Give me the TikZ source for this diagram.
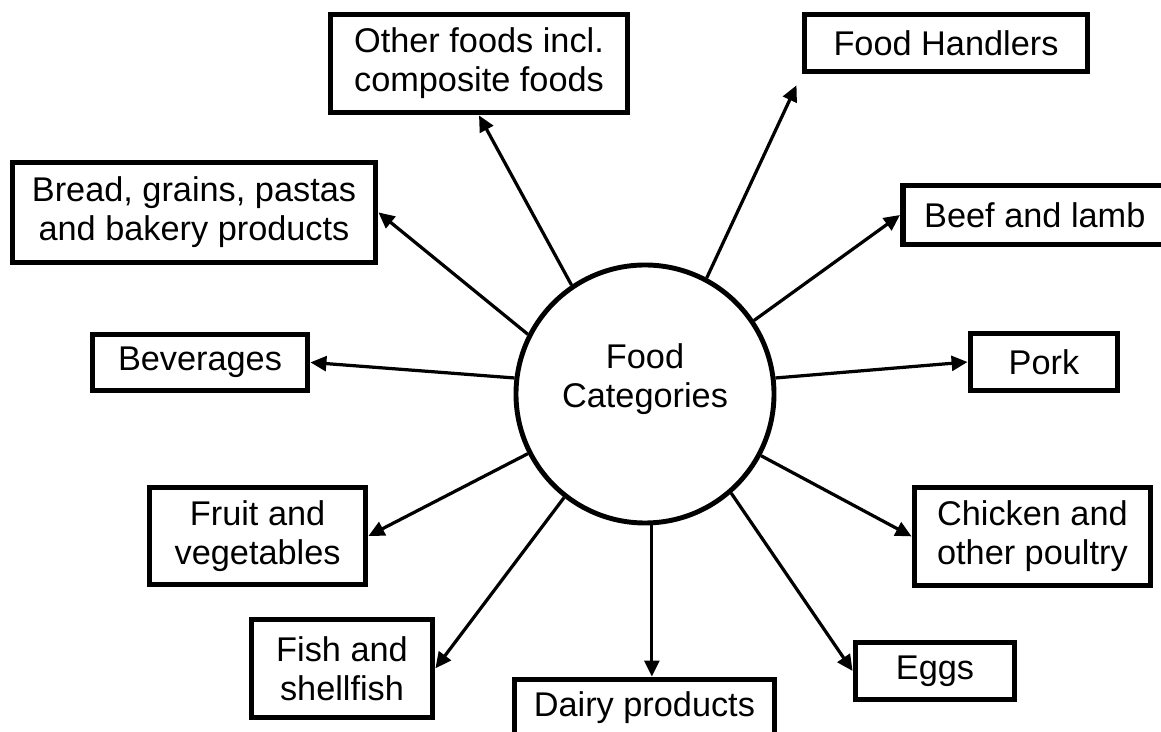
\documentclass[tikz,border=0pt]{standalone}
\usepackage{fontspec}
\setmainfont{Liberation Sans}
\usepackage{tikz}
\usetikzlibrary{arrows.meta}

\begin{document}
\begin{tikzpicture}[
	catbox/.style={draw, line width=4pt, align=center, inner sep=0pt, font=\fontsize{24.4}{27.7}\selectfont},
	catcircle/.style={draw, circle, line width=3.5pt, minimum size=6.45cm, inner sep=0pt},
	catlink/.style={line width=2.3pt, -{Triangle[length=0.4cm, width=0.37cm]}}
	]
	\useasboundingbox (0,0) rectangle (29.025,18.3);
	
	% centre
	\node[catcircle] (cat) at (16.125,8.45) {};
	
	\node[catbox, draw=none] (catname) at ([yshift=0.375cm]cat.center) {Food\\Categories};
	
	% categories round it
	\node[catbox, minimum width=7.43cm, minimum height=2.45cm] (other) at (11.975,16.71) {Other foods incl.\\composite foods};
	
	\node[catbox, minimum width=7.08cm, minimum height=1.43cm] (fh) at (23.65,17.225) {Food Handlers};
	
	\node[catbox, minimum width=9.08cm, minimum height=2.5cm] (bread) at (4.85,12.99) {Bread, grains, pastas\\and bakery products};
	
	\node[catbox, minimum width=6.6cm, minimum height=1.48cm] (beef) at (25.87,12.925) {Beef and lamb};
	
	\node[catbox, minimum width=5.38cm, minimum height=1.4cm] (bev) at (5.0,9.24) {Beverages};
	
	\node[catbox, minimum width=3.68cm, minimum height=1.43cm] (pork) at (26.1,9.25) {Pork};
	
	\node[catbox, minimum width=5.4cm, minimum height=2.43cm] (fruit) at (6.44,4.9) {Fruit and\\vegetables};
	
	\node[catbox, minimum width=5.9cm, minimum height=2.45cm] (chicken) at (25.81,4.89) {Chicken and\\other poultry};
	
	\node[catbox, minimum width=4.53cm, minimum height=2.45cm] (fish) at (8.55,1.59) {Fish and\\shellfish};
	
	\node[catbox, minimum width=3.98cm, minimum height=1.43cm] (eggs) at (23.375,1.525) {Eggs};
	
	\node[catbox, minimum width=6.5cm, minimum height=1.43cm] (dairy) at (16.11,0.6) {Dairy products};
	
	% arrows
	\draw[catlink] (cat.124) -- (other.south);
	
	\draw[catlink, shorten >=0.3cm] (cat.62) -- (fh.south west);
	
	\draw[catlink] (cat.34) -- (beef.west);
	
	\draw[catlink] (cat.7) -- (pork.west);
	
	\draw[catlink] (cat.-28) -- (chicken.west);
	
	\draw[catlink] (cat.-49) -- (eggs.west);
	
	\draw[catlink] (cat.-87) -- (cat.-87 |- dairy.north);
	
	\draw[catlink] (cat.232) -- (fish.east);
	
	\draw[catlink] (cat.207) -- (fruit.east);
	
	\draw[catlink] (cat.173) -- (bev.east);
	
	\draw[catlink] (cat.153) -- (bread.east);
	
\end{tikzpicture}
\end{document}
